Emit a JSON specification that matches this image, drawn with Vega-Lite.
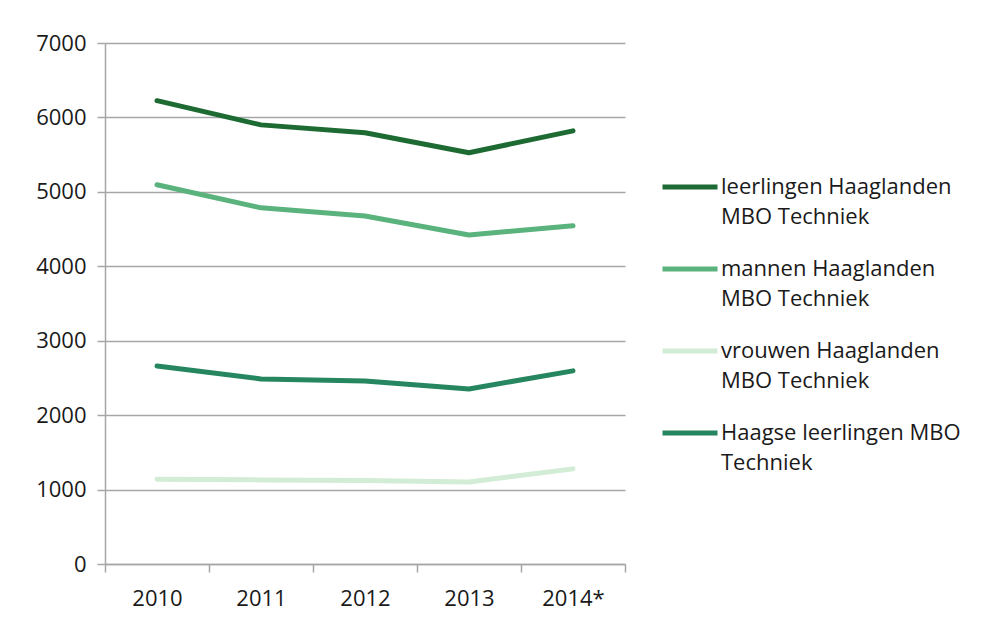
{
  "$schema": "https://vega.github.io/schema/vega-lite/v6.json",
  "width": 520,
  "height": 521,
  "autosize": {"type": "none"},
  "padding": {"left": 105, "top": 43, "right": 366, "bottom": 60},
  "background": "white",
  "config": {
    "view": {"stroke": null},
    "font": "Open Sans",
    "style": {"guide-label": {"lineHeight": 30}},
    "axis": {"labelFont": "Open Sans", "labelFontSize": 22, "labelColor": "#1a1a1a", "domainColor": "#a6a6a6", "tickColor": "#a6a6a6", "gridColor": "#a6a6a6", "domainWidth": 1.5, "tickWidth": 1.5, "gridWidth": 1.5, "tickSize": 8},
    "legend": {"labelFont": "Open Sans", "labelFontSize": 22, "labelColor": "#1a1a1a"}
  },
  "data": {
    "values": [
      {"jaar": "2010", "reeks": "leerlingen Haaglanden MBO Techniek", "aantal": 6225},
      {"jaar": "2011", "reeks": "leerlingen Haaglanden MBO Techniek", "aantal": 5900},
      {"jaar": "2012", "reeks": "leerlingen Haaglanden MBO Techniek", "aantal": 5795},
      {"jaar": "2013", "reeks": "leerlingen Haaglanden MBO Techniek", "aantal": 5525},
      {"jaar": "2014*", "reeks": "leerlingen Haaglanden MBO Techniek", "aantal": 5820},
      {"jaar": "2010", "reeks": "mannen Haaglanden MBO Techniek", "aantal": 5095},
      {"jaar": "2011", "reeks": "mannen Haaglanden MBO Techniek", "aantal": 4785},
      {"jaar": "2012", "reeks": "mannen Haaglanden MBO Techniek", "aantal": 4675},
      {"jaar": "2013", "reeks": "mannen Haaglanden MBO Techniek", "aantal": 4420},
      {"jaar": "2014*", "reeks": "mannen Haaglanden MBO Techniek", "aantal": 4545},
      {"jaar": "2010", "reeks": "vrouwen Haaglanden MBO Techniek", "aantal": 1140},
      {"jaar": "2011", "reeks": "vrouwen Haaglanden MBO Techniek", "aantal": 1130},
      {"jaar": "2012", "reeks": "vrouwen Haaglanden MBO Techniek", "aantal": 1122},
      {"jaar": "2013", "reeks": "vrouwen Haaglanden MBO Techniek", "aantal": 1102},
      {"jaar": "2014*", "reeks": "vrouwen Haaglanden MBO Techniek", "aantal": 1278},
      {"jaar": "2010", "reeks": "Haagse leerlingen MBO Techniek", "aantal": 2660},
      {"jaar": "2011", "reeks": "Haagse leerlingen MBO Techniek", "aantal": 2487},
      {"jaar": "2012", "reeks": "Haagse leerlingen MBO Techniek", "aantal": 2460},
      {"jaar": "2013", "reeks": "Haagse leerlingen MBO Techniek", "aantal": 2352},
      {"jaar": "2014*", "reeks": "Haagse leerlingen MBO Techniek", "aantal": 2595}
    ]
  },
  "mark": {"type": "line", "strokeWidth": 5, "strokeCap": "round", "strokeJoin": "round"},
  "encoding": {
    "x": {
      "field": "jaar", "type": "ordinal", "title": null,
      "scale": {"paddingInner": 0, "paddingOuter": 0},
      "axis": {"labelAngle": 0, "tickBand": "extent", "grid": false, "labelPadding": 16}
    },
    "y": {
      "field": "aantal", "type": "quantitative", "title": null,
      "scale": {"domain": [0, 7000], "nice": false},
      "axis": {"values": [0, 1000, 2000, 3000, 4000, 5000, 6000, 7000], "grid": true, "labelPadding": 11, "format": "d"}
    },
    "color": {
      "field": "reeks", "type": "nominal", "title": null,
      "sort": ["leerlingen Haaglanden MBO Techniek", "mannen Haaglanden MBO Techniek", "vrouwen Haaglanden MBO Techniek", "Haagse leerlingen MBO Techniek"],
      "scale": {
        "domain": ["leerlingen Haaglanden MBO Techniek", "mannen Haaglanden MBO Techniek", "vrouwen Haaglanden MBO Techniek", "Haagse leerlingen MBO Techniek"],
        "range": ["#1d6b32", "#5ab27d", "#d2ecd6", "#268660"]
      },
      "legend": {
        "orient": "none", "legendX": 555, "legendY": 114,
        "symbolType": "stroke", "symbolSize": 3025, "symbolStrokeWidth": 5,
        "labelOffset": 1, "rowPadding": 11, "labelLimit": 400,
        "labelExpr": "datum.label == 'Haagse leerlingen MBO Techniek' ? ['Haagse leerlingen MBO', 'Techniek'] : [replace(datum.label, ' MBO Techniek', ''), 'MBO Techniek']",
        "labelBaseline": "middle"
      }
    }
  }
}
